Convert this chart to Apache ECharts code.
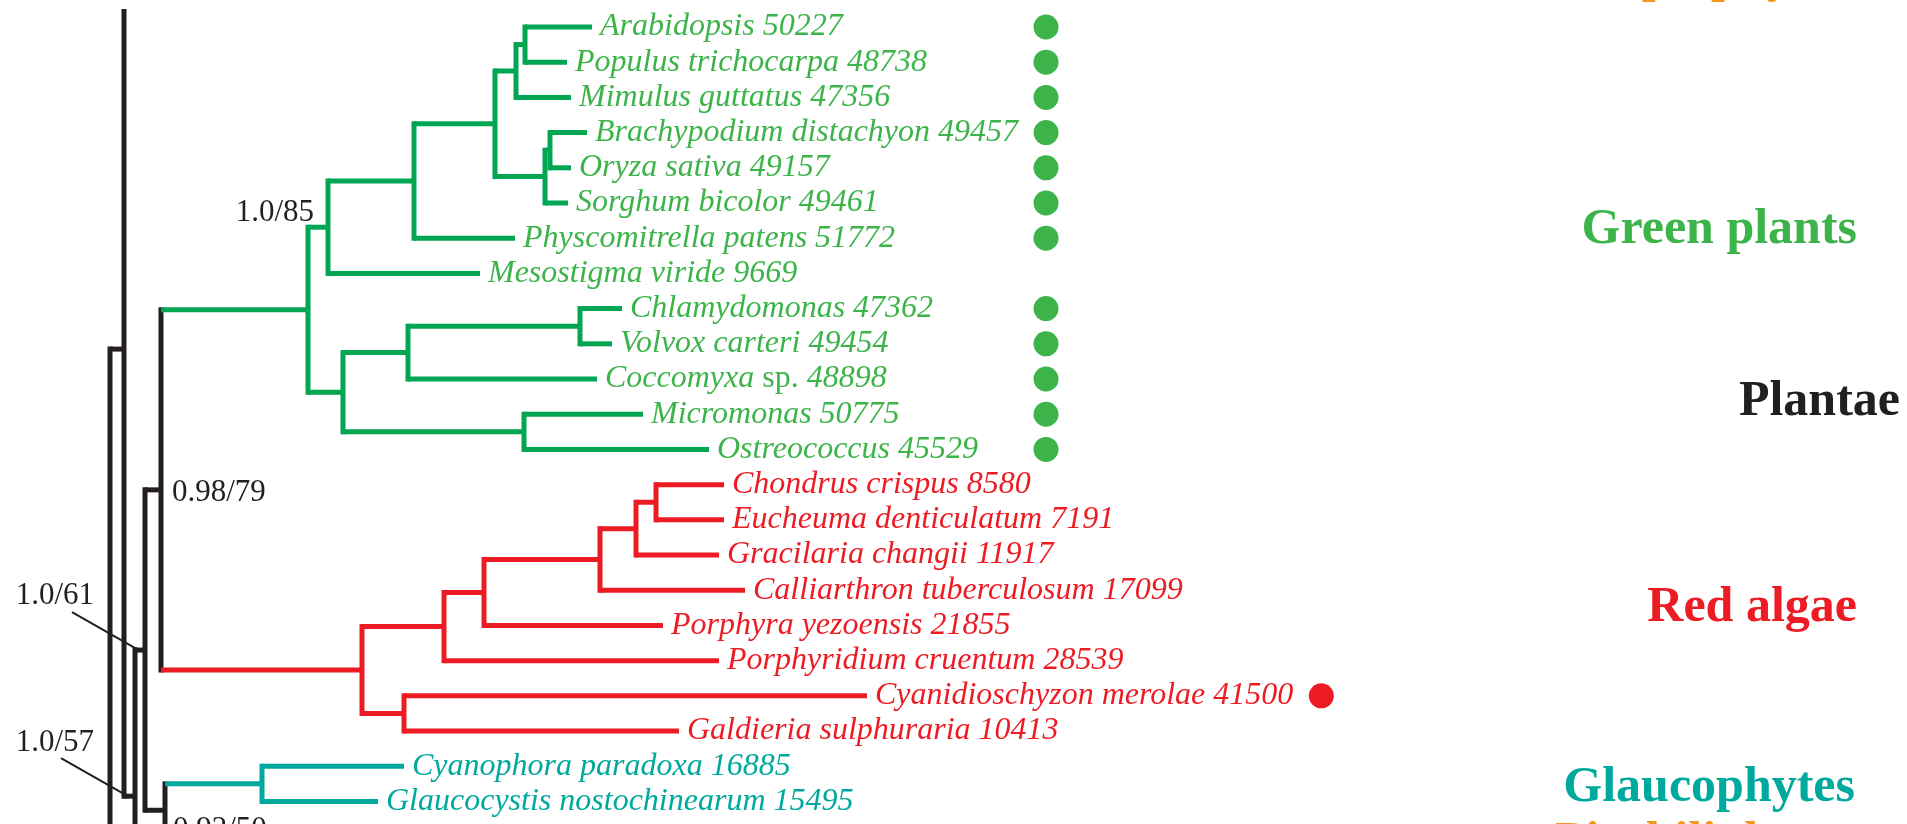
<!DOCTYPE html>
<html><head><meta charset="utf-8">
<script src="https://cdn.jsdelivr.net/npm/echarts@6/dist/echarts.min.js"></script>
<style>html,body{margin:0;padding:0;background:#fff;overflow:hidden}#c{width:1907px;height:824px}</style>
</head><body><div id="c"></div>
<script>
// ---------------- data ----------------
// leaves, top to bottom (row index = position in list)
const leafNames = ['Arabidopsis','Populus trichocarpa','Mimulus guttatus','Brachypodium distachyon','Oryza sativa',
  'Sorghum bicolor','Physcomitrella patens','Mesostigma viride','Chlamydomonas','Volvox carteri','Coccomyxa sp.',
  'Micromonas','Ostreococcus','Chondrus crispus','Eucheuma denticulatum','Gracilaria changii','Calliarthron tuberculosum',
  'Porphyra yezoensis','Porphyridium cruentum','Cyanidioschyzon merolae','Galdieria sulphuraria','Cyanophora paradoxa',
  'Glaucocystis nostochinearum'];
const leafNumbers = [50227,48738,47356,49457,49157,49461,51772,9669,47362,49454,48898,50775,45529,
  8580,7191,11917,17099,21855,28539,41500,10413,16885,15495];
// tip depth of every leaf branch (tree depth units)
const leafTips = [59.2,56.7,57.1,58.7,57.1,56.8,51.5,48.0,62.2,61.2,59.7,64.3,70.9,
  72.4,72.4,71.9,74.5,66.3,71.9,86.7,67.9,40.4,37.8];
// filled-circle marks
const leafMarks = ['g','g','g','g','g','g','g','','g','g','g','g','g','','','','','','','r','','',''];

// internal nodes: depth and children (numbers = leaf rows, strings = nodes)
const nodeNames  = ['A','B','C','E','D','F','G','I','J','L','K','H','M','N','O','P','Q','S','R','T','W','Y','X','Z','V','U'];
const nodeDepths = [52.5,51.6,55.0,54.5,49.5,41.4,32.8,58.0,40.8,52.4,34.3,30.8,65.6,63.6,60.0,48.4,44.4,40.4,36.2,26.2,16.1,16.5,14.5,13.5,12.4,11.0];
const nodeChildren = [[0,1],['A',2],[3,4],['C',5],['B','E'],['D',6],['F',7],[8,9],['I',10],[11,12],['J','L'],['G','K'],
  [13,14],['M',15],['N',16],['O',17],['P',18],[19,20],['Q','S'],[21,22],['H','R'],['T','pico'],['W','Y'],['X','lower'],['upper','Z'],['V','basal']];
// subtrees outside the cropped view (only their connectors show)
const stubNames  = ['pico','lower','upper','basal'];
const stubRows   = [23, 26, -3.55, 30];
const stubDepths = [20, 20, 20, 20];

// clade colouring
const cladeRoots = {H:'green', R:'red', T:'teal'};

// support values
const supportNodes  = ['G','W','Y','X','Z'];
const supportValues = ['1.0/85','0.98/79','0.92/50','1.0/61','1.0/57'];

// group labels
const groupNames  = ['Haptophytes','Green plants','Plantae','Red algae','Glaucophytes','Picobiliphytes'];
const groupRows   = [-1.4, 5.77, 10.65, 16.5, 21.62, 23.18];
const groupRight  = [185.0, 185.7, 190.0, 185.7, 185.5, 185.5];
const groupColors = ['orange','green','black','red','teal','orange'];

// ---------------- styles ----------------
const FAM = '"Liberation Serif","Times New Roman",Times,serif';
const branchColor = {green:'#00a651', red:'#ed1c24', teal:'#00a99d', black:'#231f20'};
const textColor   = {green:'#3cb44a', red:'#ed1c24', teal:'#00a99d', black:'#231f20', orange:'#f7941d'};
const LEAF_FS = 32, SUP_FS = 31, GROUP_FS = 50;
const LINE_W = 5, LABEL_GAP = 8, MARK_COLUMN = 104.6, MARK_R = 12.5, MARK_GAP = 28;
const supportStyle = {
  G:{dx:-14, dy:-14, align:'right'},
  W:{dx:11, dy:3, align:'left'},
  Y:{dx:8, dy:20, align:'left'},
  X:{pointer:true, dx:-41, dy:-54, px:-63, py:-38},
  Z:{pointer:true, dx:-30, dy:-53, px:-63, py:-38}
};

// ---------------- tree layout ----------------
const childrenOf = {}, depthOf = {}, rowOf = {}, parentOf = {}, colorOf = {};
nodeNames.forEach((n,i)=>{ childrenOf[n]=nodeChildren[i]; depthOf[n]=nodeDepths[i];
  nodeChildren[i].forEach(c=>parentOf[c]=n); });
leafNames.forEach((n,i)=>{ depthOf[i]=leafTips[i]; rowOf[i]=i; });
stubNames.forEach((n,i)=>{ depthOf[n]=stubDepths[i]; rowOf[n]=stubRows[i]; });
function rowOfKey(k){
  if (k in rowOf) return rowOf[k];
  const ch = childrenOf[k];
  rowOf[k] = (rowOfKey(ch[0]) + rowOfKey(ch[ch.length-1]))/2;
  return rowOf[k];
}
nodeNames.forEach(rowOfKey);
function paint(k, c){ colorOf[k]=c; (childrenOf[k]||[]).forEach(ch=>paint(ch, cladeRoots[ch]||c)); }
paint('U','black');

const segs = [];
nodeNames.forEach(n=>{
  const ch = childrenOf[n];
  segs.push({x1:depthOf[n], y1:rowOf[ch[0]], x2:depthOf[n], y2:rowOf[ch[ch.length-1]], c:colorOf[n], v:true});
  ch.forEach(c=>segs.push({x1:depthOf[n], y1:rowOf[c], x2:depthOf[c], y2:rowOf[c], c:colorOf[c], v:false}));
});

// ---------------- texts ----------------
const ctx = document.createElement('canvas').getContext('2d');
function leafRich(i){
  const parts = leafNames[i].split(' ');
  const segsT = parts.map(p => p==='sp.' ? {s:'n', t:p} : {s:'i', t:p});
  segsT.push({s:'i', t:String(leafNumbers[i])});
  return segsT;
}
function measure(segsT){
  let w = 0;
  segsT.forEach((s,j)=>{
    ctx.font = (s.s==='i'?'italic ':'') + LEAF_FS + 'px ' + FAM;
    w += ctx.measureText(s.t).width;
    if (j < segsT.length-1) { ctx.font = 'italic ' + LEAF_FS + 'px ' + FAM; w += ctx.measureText(' ').width; }
  });
  return w;
}
const texts = [];
leafNames.forEach((n,i)=>{
  const r = leafRich(i);
  texts.push({x:depthOf[i], y:i, dx:LABEL_GAP, dy:0, align:'left', color:textColor[colorOf[i]],
    rich:r, size:LEAF_FS});
});
supportNodes.forEach((n,i)=>{
  const st = supportStyle[n];
  const ax = st.pointer ? depthOf[parentOf[n]] : depthOf[n];
  texts.push({x:ax, y:rowOf[n], dx:st.dx, dy:st.dy, align:'right'===st.align||st.pointer?'right':'left',
    color:textColor.black, plain:supportValues[i], font: SUP_FS+'px '+FAM});
});
groupNames.forEach((g,i)=>{
  texts.push({x:groupRight[i], y:groupRows[i], dx:0, dy:0, align:'right', color:textColor[groupColors[i]],
    plain:g, font:'bold '+GROUP_FS+'px '+FAM});
});

const pointers = supportNodes.filter(n=>supportStyle[n].pointer).map(n=>({x:depthOf[parentOf[n]], y:rowOf[n], st:supportStyle[n]}));

const marks = [];
leafMarks.forEach((m,i)=>{ if (m) marks.push({i, c: m==='g'?textColor.green:textColor.red}); });

// ---------------- chart ----------------
const chart = echarts.init(document.getElementById('c'), null, {renderer:'canvas'});
const option = {
  animation:false,
  grid:{left:0, right:0, top:9, bottom:0},
  xAxis:{type:'value', min:0, max:190.7, show:false},
  yAxis:{type:'value', min:-0.511, max:22.64, inverse:true, show:false},
  series:[
    {
      type:'custom', name:'branches',
      data: segs.map(s=>[s.x1, s.y1, s.x2, s.y2]),
      renderItem:(params, api)=>{
        const s = segs[params.dataIndex];
        const a = api.coord([s.x1, s.y1]), b = api.coord([s.x2, s.y2]);
        const cs = params.coordSys;
        return {type:'line', shape:{x1:a[0], y1:a[1], x2:b[0], y2:b[1]},
          style:{stroke:branchColor[s.c], lineWidth:LINE_W, lineCap: s.v?'square':'butt'},
          clipPath:{type:'rect', shape:{x:cs.x, y:cs.y, width:cs.width, height:cs.height}}};
      }
    },
    {
      type:'custom', name:'pointers',
      data: pointers.map(p=>[p.x, p.y]),
      renderItem:(params, api)=>{
        const p = pointers[params.dataIndex];
        const a = api.coord([p.x, p.y]);
        return {type:'line', shape:{x1:a[0]+p.st.px, y1:a[1]+p.st.py, x2:a[0]+2, y2:a[1]-1},
          style:{stroke:'#231f20', lineWidth:2}};
      }
    },
    {
      type:'custom', name:'marks',
      data: marks.map(m=>[MARK_COLUMN, m.i]),
      renderItem:(params, api)=>{
        const m = marks[params.dataIndex];
        const col = api.coord([MARK_COLUMN, m.i]);
        const tip = api.coord([depthOf[m.i], m.i]);
        const end = tip[0] + LABEL_GAP + measure(leafRich(m.i));
        const cx = Math.max(col[0], end + MARK_GAP);
        return {type:'circle', shape:{cx:cx, cy:col[1], r:MARK_R}, style:{fill:m.c}};
      }
    },
    {
      type:'custom', name:'texts',
      data: texts.map(t=>[t.x, t.y]),
      renderItem:(params, api)=>{
        const t = texts[params.dataIndex];
        const p = api.coord([t.x, t.y]);
        const style = {x:0, y:0, fill:t.color, align:t.align, verticalAlign:'middle'};
        if (t.rich) {
          style.text = t.rich.map(s=>'{'+s.s+'|'+s.t+'}').join(' ');
          style.font = 'italic '+t.size+'px '+FAM;
          style.rich = {
            i:{fontStyle:'italic', fontSize:t.size, fontFamily:FAM, fill:t.color},
            n:{fontStyle:'normal', fontSize:t.size, fontFamily:FAM, fill:t.color}
          };
        } else {
          style.text = t.plain;
          style.font = t.font;
        }
        return {type:'text', x:p[0]+t.dx, y:p[1]+t.dy, style:style};
      }
    }
  ]
};
chart.setOption(option);
</script>
</body></html>
